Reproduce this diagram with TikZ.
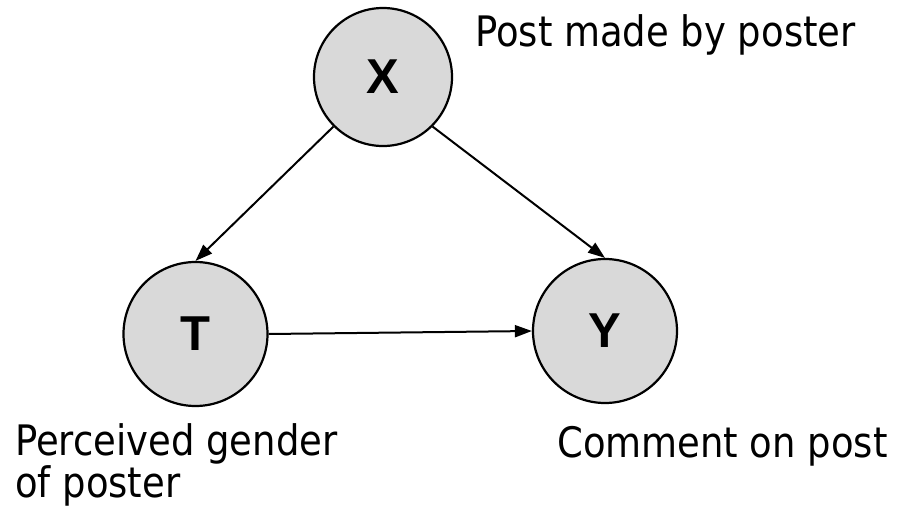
\documentclass[tikz,border=0pt]{standalone}
\usepackage{fontspec}
\usetikzlibrary{arrows.meta}
\setmainfont{DejaVu Sans}[FakeStretch=0.88]
\newfontfamily\lettersfont{Liberation Sans}
\definecolor{nodegray}{HTML}{D9D9D9}
\begin{document}
\begin{tikzpicture}[x=1pt,y=-1pt,
  var/.style={circle,draw=black,line width=2.2pt,fill=nodegray,inner sep=0pt,
    font=\lettersfont\bfseries\fontsize{49}{49}\selectfont},
  lbl/.style={inner sep=0pt,anchor=base west,align=left,
    font=\fontsize{42}{39}\selectfont},
  edge/.style={line width=2pt,-{Triangle[length=17pt,width=12pt]}}]
\useasboundingbox (0,0) rectangle (898,509);
% variables
\node[var,minimum size=138pt] (X) at (383,77) {X};
\node[var,minimum size=144pt] (T) at (195.5,334) {T};
\node[var,minimum size=144pt] (Y) at (605,331) {Y};
% labels (base anchor of the two-line label sits on its last line)
\node[lbl] (lx) at (475,46) {Post made by poster};
\node[lbl] (lt) at (15,497) {Perceived gender\\of poster};
\node[lbl] (ly) at (557,457) {Comment on post};
% causal edges
\draw[edge] (X.south west) -- (T.north);
\draw[edge] (X.south east) -- (Y.north);
\draw[edge] (T.east) -- (Y.west);
\end{tikzpicture}
\end{document}
